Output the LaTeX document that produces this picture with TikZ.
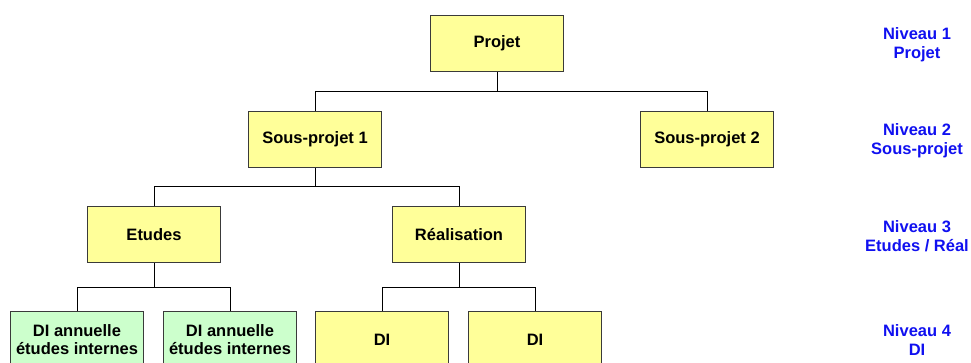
\documentclass[tikz,border=0pt]{standalone}
\usepackage{fontspec}
\setmainfont{Liberation Sans}
\definecolor{boxyellow}{HTML}{FFFF99}
\definecolor{boxgreen}{HTML}{CCFFCC}
\definecolor{boxedge}{HTML}{3A3A3A}
\definecolor{levelblue}{HTML}{1010F0}
\begin{document}
\begin{tikzpicture}[x=1pt,y=-1pt,
  unit/.style={draw=boxedge,line width=1pt,rectangle,minimum width=133pt,minimum height=56pt,
    inner sep=0pt,align=center,font=\fontsize{16.5}{18.5}\selectfont\bfseries},
  yellowunit/.style={unit,fill=boxyellow},
  greenunit/.style={unit,fill=boxgreen},
  levellabel/.style={align=center,text=levelblue,font=\fontsize{16.5}{19}\selectfont\bfseries},
  link/.style={draw=black,line width=1pt}]
\useasboundingbox (0,0) rectangle (971,363);
\begin{scope}
\clip (0,0) rectangle (971,363);

% Level 1
\node[yellowunit] (proj) at (497,43.5) {Projet};

% Level 2
\node[yellowunit] (sp1) at (315,139.5) {Sous-projet 1};
\node[yellowunit] (sp2) at (707,139.5) {Sous-projet 2};

% Level 3
\node[yellowunit] (etu) at (154,234.5) {Etudes};
\node[yellowunit] (rea) at (459,234.5) {Réalisation};

% Level 4
\node[greenunit] (dia) at (77,339.5) {DI annuelle\\études internes};
\node[greenunit] (dib) at (230,339.5) {DI annuelle\\études internes};
\node[yellowunit] (dic) at (382,339.5) {DI};
\node[yellowunit] (did) at (535,339.5) {DI};

% Junction points of the tree
\coordinate (j1) at (497,92);
\coordinate (j2) at (315,187);
\coordinate (j3) at (154,287);
\coordinate (j4) at (459,287);

\draw[link] (proj) -- (j1);
\draw[link] (j1) -| (sp1);
\draw[link] (j1) -| (sp2);

\draw[link] (sp1) -- (j2);
\draw[link] (j2) -| (etu);
\draw[link] (j2) -| (rea);

\draw[link] (etu) -- (j3);
\draw[link] (j3) -| (dia);
\draw[link] (j3) -| (dib);

\draw[link] (rea) -- (j4);
\draw[link] (j4) -| (dic);
\draw[link] (j4) -| (did);
\end{scope}

% Level captions
\node[levellabel] (n1) at (917,45) {Niveau 1\\Projet};
\node[levellabel] (n2) at (917,141) {Niveau 2\\Sous-projet};
\node[levellabel] (n3) at (917,236) {Niveau 3\\Etudes / Réal};
\node[levellabel] (n4) at (917,340) {Niveau 4\\DI};
\end{tikzpicture}
\end{document}
